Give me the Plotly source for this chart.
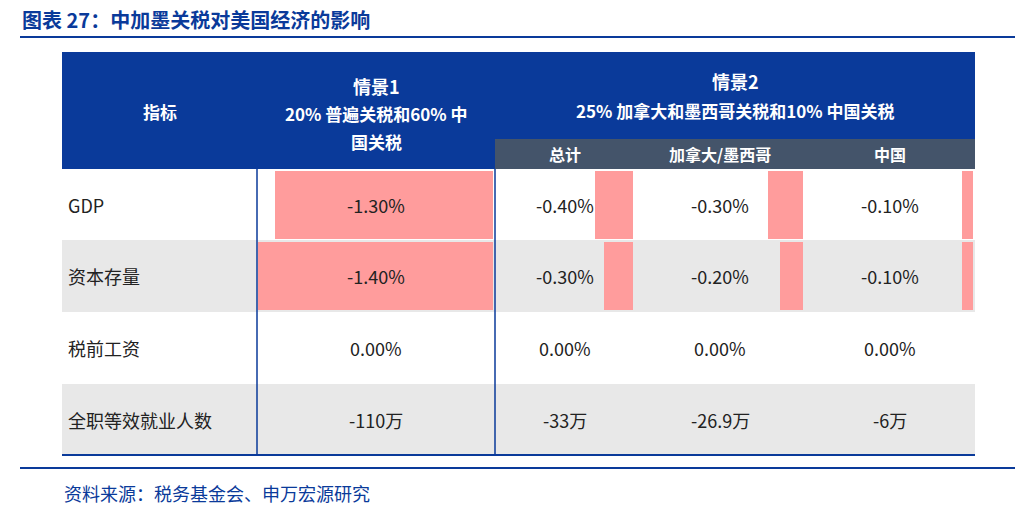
import plotly.graph_objects as go

rows = ["GDP", "资本存量", "税前工资", "全职等效就业人数"]
s1 = [-1.30, -1.40, 0.00, None]
total = [-0.40, -0.30, 0.00, None]
canmex = [-0.30, -0.20, 0.00, None]
china = [-0.10, -0.10, 0.00, None]
s1_txt = ["-1.30%", "-1.40%", "0.00%", "-110万"]
total_txt = ["-0.40%", "-0.30%", "0.00%", "-33万"]
canmex_txt = ["-0.30%", "-0.20%", "0.00%", "-26.9万"]
china_txt = ["-0.10%", "-0.10%", "0.00%", "-6万"]

BLUE = "#0a3a9a"
SUB = "#44546a"
PINK = "#ff9c9c"
GRAY = "#e8e8e8"
FONT = "Noto Sans CJK SC"

row_top = [170, 241, 313, 385, 456]
scales = [168, 96, 117, 110]  # px per 1%
rights = [493, 633, 803, 973]
fig = go.Figure()
shapes = []
ann = []

shapes.append(dict(type="rect", x0=62, x1=975, y0=53, y1=170, fillcolor=BLUE, line_width=0, layer="below"))
shapes.append(dict(type="rect", x0=495, x1=975, y0=140, y1=170, fillcolor=SUB, line_width=0, layer="below"))
for i in range(4):
    if i % 2 == 1:
        shapes.append(dict(type="rect", x0=62, x1=975, y0=row_top[i], y1=row_top[i+1], fillcolor=GRAY, line_width=0, layer="below"))

series = [s1, total, canmex, china]
for c, vals in enumerate(series):
    ys, xs, bases = [], [], []
    for r, v in enumerate(vals):
        if v is None or v == 0:
            continue
        ys.append((row_top[r] + row_top[r+1]) / 2)
        xs.append(v * scales[c])
        bases.append(rights[c])
    fig.add_trace(go.Bar(y=ys, x=xs, base=bases, orientation="h", width=68,
                         marker=dict(color=PINK, line_width=0), hoverinfo="skip", showlegend=False))

shapes.append(dict(type="line", x0=62, x1=975, y0=456, y1=456, line=dict(color=BLUE, width=2)))
for x in (257, 495):
    shapes.append(dict(type="line", x0=x, x1=x, y0=170, y1=456, line=dict(color=BLUE, width=1.5)))
shapes.append(dict(type="line", x0=20, x1=1015, y0=38, y1=38, line=dict(color=BLUE, width=2)))
shapes.append(dict(type="line", x0=20, x1=1015, y0=469, y1=469, line=dict(color=BLUE, width=2)))

def t(x, y, s, size=18, color="#222", bold=False, xanchor="center"):
    ann.append(dict(x=x, y=y, text=f"<b>{s}</b>" if bold else s, showarrow=False, xanchor=xanchor,
                    yanchor="middle", font=dict(family=FONT, size=size, color=color)))

t(20, 20, "图表 27：中加墨关税对美国经济的影响", 20, BLUE, True, "left")
t(160, 112, "指标", 17, "white", True)
t(376, 87, "情景1", 18, "white", True)
t(376, 114, "20% 普遍关税和60% 中", 17, "white", True)
t(376, 142, "国关税", 17, "white", True)
t(735, 82, "情景2", 18, "white", True)
t(735, 111, "25% 加拿大和墨西哥关税和10% 中国关税", 17, "white", True)
t(565, 155, "总计", 16, "white", True)
t(720, 155, "加拿大/墨西哥", 16, "white", True)
t(890, 155, "中国", 16, "white", True)
cx = [376, 565, 720, 890]
for r in range(4):
    yc = (row_top[r] + row_top[r+1]) / 2
    t(66, yc, rows[r], 18, "#222", False, "left")
    for c, txt in enumerate([s1_txt, total_txt, canmex_txt, china_txt]):
        t(cx[c], yc, txt[r], 18)
t(62, 494, "资料来源：税务基金会、申万宏源研究", 18, BLUE, False, "left")

fig.update_layout(width=1034, height=526, margin=dict(l=0, r=0, t=0, b=0),
                  plot_bgcolor="white", paper_bgcolor="white", shapes=shapes, annotations=ann,
                  xaxis=dict(range=[8, 1042], visible=False, fixedrange=True),
                  yaxis=dict(range=[535, 9], visible=False, fixedrange=True),
                  barmode="overlay", bargap=0)
fig.write_html("out.html")
